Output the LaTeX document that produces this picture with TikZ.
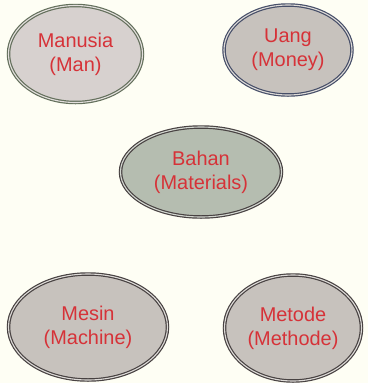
\documentclass[tikz,border=0pt]{standalone}
\usepackage{fontspec}
\setmainfont{Liberation Sans}
\definecolor{paperbg}{RGB}{254, 254, 244}
\definecolor{labelred}{RGB}{214, 50, 56}
\definecolor{mossline}{RGB}{100, 112, 92}
\definecolor{slateline}{RGB}{70, 78, 104}
\definecolor{darkline}{RGB}{72, 66, 66}
\definecolor{pinkgray}{RGB}{215, 209, 207}
\definecolor{warmgray}{RGB}{199, 194, 189}
\definecolor{sagegray}{RGB}{181, 189, 176}
\usetikzlibrary{shapes.geometric}

\tikzset{
  factor/.style={ellipse, inner sep=0pt, line width=1.2bp, double distance=1.1bp,
    text=labelred, align=center, font=\fontsize{20}{24}\selectfont}
}

\begin{document}
\begin{tikzpicture}[x=1bp, y=-1bp]
  % Background
  \fill[paperbg] (0, 0) rectangle (368, 383);

  % Top row
  \node[factor, draw=mossline, double=pinkgray!70!white, fill=pinkgray, minimum width=134bp, minimum height=97bp] (man) at (75.5, 54) {Manusia\\(Man)};
  \node[factor, draw=slateline, double=warmgray!60!white, fill=warmgray, minimum width=128bp, minimum height=90bp] (money) at (288, 50) {Uang\\(Money)};

  % Centre
  \node[factor, draw=darkline, double=sagegray!60!white, fill=sagegray, minimum width=161bp, minimum height=90bp] (material) at (201, 172) {Bahan\\(Materials)};

  % Bottom row
  \node[factor, draw=darkline, double=warmgray!60!white, fill=warmgray, minimum width=159bp, minimum height=106bp] (machine) at (88, 327) {Mesin\\(Machine)};
  \node[factor, draw=darkline, double=warmgray!60!white, fill=warmgray, minimum width=137bp, minimum height=106bp] (method) at (293, 328) {Metode\\(Methode)};
\end{tikzpicture}
\end{document}
